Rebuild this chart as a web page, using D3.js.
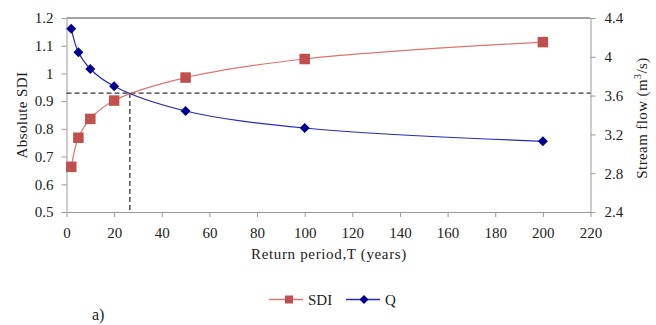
<!DOCTYPE html>
<html>
<head>
<meta charset="utf-8">
<script src="https://d3js.org/d3.v7.min.js"></script>
<style>
    html, body { margin: 0; padding: 0; background: white; }
    svg text { font-family: 'Liberation Serif'; }
</style>
</head>
<body>
<svg id="chart" width="656" height="325" font-family="Liberation Serif"></svg>
<script>

// DATA
const period = [2, 5, 10, 20, 50, 100, 200]
const sdi = [0.663, 0.768, 0.836, 0.902, 0.985, 1.052, 1.113]
const flow = [4.29, 4.046, 3.874, 3.696, 3.441, 3.266, 3.129]
const xTicks = [0, 20, 40, 60, 80, 100, 120, 140, 160, 180, 200, 220]
const yTicks = [0.5, 0.6, 0.7, 0.8, 0.9, 1, 1.1, 1.2]
const y2Ticks = [2.4, 2.8, 3.2, 3.6, 4, 4.4]
const cross = [26.6, 0.929]

// SETUP
const W = 656, H = 325
const m = {l: 66.5, r: 65.5, t: 18, b: 113}

const svg = d3.select('#chart')

const x = d3.scaleLinear().domain([0, 220]).range([m.l, W - m.r])
const y = d3.scaleLinear().domain([0.5, 1.2]).range([H - m.b, m.t])
const y2 = d3.scaleLinear().domain([2.4, 4.4]).range([H - m.b, m.t])

const red = '#c0504d', navy = '#000090'
const redLine = '#dc7471', blueLine = '#2a2ab8'

// frame top line
svg.append('line')
    .attr('x1', x(0)).attr('x2', x(220))
    .attr('y1', y(1.2)).attr('y2', y(1.2))
    .attr('stroke', '#444').attr('stroke-width', 1)

//AXES
function style(g){
    g.attr('font-family', 'Liberation Serif').attr('font-size', 15)
    g.select('.domain').attr('stroke', '#999')
    g.selectAll('.tick line').attr('stroke', '#999')
}

svg.append('g')
    .attr('transform', 'translate(0,' + (H - m.b) + ')')
    .call(d3.axisBottom(x).tickValues(xTicks).tickSize(5).tickSizeOuter(0).tickPadding(10))
    .call(style)

svg.append('g')
    .attr('transform', 'translate(' + m.l + ',0)')
    .call(d3.axisLeft(y).tickValues(yTicks).tickFormat(d3.format('')).tickSize(5).tickSizeOuter(0).tickPadding(8))
    .call(style)

svg.append('g')
    .attr('transform', 'translate(' + (W - m.r) + ',0)')
    .call(d3.axisRight(y2).tickValues(y2Ticks).tickFormat(d3.format('')).tickSize(5).tickSizeOuter(0).tickPadding(9))
    .call(style)

// axis titles
svg.append('text')
    .attr('transform', 'translate(27,115) rotate(-90)')
    .attr('text-anchor', 'middle')
    .attr('font-size', 15)
    .attr('letter-spacing', 0.4)
    .text('Absolute SDI')

const st = svg.append('text')
    .attr('transform', 'translate(647,118) rotate(-90)')
    .attr('text-anchor', 'middle')
    .attr('font-size', 15)
    .attr('letter-spacing', 0.4)
st.append('tspan').text('Stream flow (m')
st.append('tspan').text('3').attr('dy', -6).attr('font-size', 10)
st.append('tspan').text('/s)').attr('dy', 6)

svg.append('text')
    .attr('x', 329).attr('y', 258.5)
    .attr('text-anchor', 'middle')
    .attr('font-size', 15)
    .attr('letter-spacing', 0.65)
    .text('Return period,T (years)')

svg.append('text')
    .attr('x', 92).attr('y', 320)
    .attr('font-size', 16)
    .text('a)')

// DASHED GUIDES
svg.append('line')
    .attr('x1', x(0)).attr('x2', x(220))
    .attr('y1', y(cross[1])).attr('y2', y(cross[1]))
    .attr('stroke', '#333').attr('stroke-width', 1.3).attr('stroke-dasharray', '5,3')
svg.append('line')
    .attr('x1', x(cross[0])).attr('x2', x(cross[0]))
    .attr('y1', y(cross[1])).attr('y2', y(0.5))
    .attr('stroke', '#333').attr('stroke-width', 1.3).attr('stroke-dasharray', '5,3')

// SERIES
const lineSdi = d3.line().curve(d3.curveCatmullRom.alpha(0.5))
    .x((d, i) => x(period[i])).y(d => y(d))
const lineQ = d3.line().curve(d3.curveCatmullRom.alpha(0.5))
    .x((d, i) => x(period[i])).y(d => y2(d))

svg.append('path').datum(sdi)
    .attr('d', lineSdi).attr('fill', 'none')
    .attr('stroke', redLine).attr('stroke-width', 1.2)
svg.append('path').datum(flow)
    .attr('d', lineQ).attr('fill', 'none')
    .attr('stroke', blueLine).attr('stroke-width', 1.2)

const sq = 10.5, dm = 5
svg.selectAll('.sq').data(sdi).enter().append('rect')
    .attr('x', (d, i) => x(period[i]) - sq / 2)
    .attr('y', d => y(d) - sq / 2)
    .attr('width', sq).attr('height', sq)
    .attr('fill', red)

function diamond(cx, cy, r){
    return 'M' + cx + ',' + (cy - r) + 'L' + (cx + r) + ',' + cy + 'L' + cx + ',' + (cy + r) + 'L' + (cx - r) + ',' + cy + 'Z'
}
svg.selectAll('.dm').data(flow).enter().append('path')
    .attr('d', (d, i) => diamond(x(period[i]), y2(d), dm))
    .attr('fill', navy)

// LEGEND
const ly = 299.5
const leg = svg.append('g').attr('font-size', 15)
leg.append('line').attr('x1', 269).attr('x2', 303).attr('y1', ly).attr('y2', ly)
    .attr('stroke', redLine).attr('stroke-width', 1.5)
leg.append('rect').attr('x', 289 - 4).attr('y', ly - 4).attr('width', 8).attr('height', 8).attr('fill', red)
leg.append('text').attr('x', 308).attr('y', ly + 5.5).text('SDI')
leg.append('line').attr('x1', 346).attr('x2', 380).attr('y1', ly).attr('y2', ly)
    .attr('stroke', blueLine).attr('stroke-width', 1.5)
leg.append('path').attr('d', diamond(364, ly, 4.5)).attr('fill', navy)
leg.append('text').attr('x', 385).attr('y', ly + 5.5).text('Q')

svg.selectAll('text').attr('fill', '#222')

</script>
</body>
</html>
